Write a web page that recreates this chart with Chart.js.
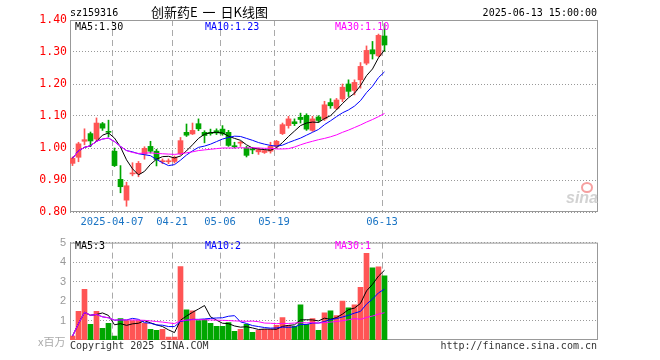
<!DOCTYPE html>
<html>
<head>
<meta charset="utf-8">
<script src="https://cdn.jsdelivr.net/npm/chart.js@4/dist/chart.umd.min.js"></script>
<style>
body { margin: 0; background: #fff; width: 660px; height: 360px; overflow: hidden; position: relative; }
canvas { position: absolute; left: 0; }
#priceChart { top: 0; }
#volChart { top: 232px; }
.t { position: absolute; white-space: nowrap; font-family: "DejaVu Sans Mono", monospace; font-size: 10px; line-height: 10px; }
.cjk { font-family: "Noto Sans CJK SC", sans-serif; }
</style>
</head>
<body>
<canvas id="priceChart" width="660" height="232"></canvas>
<canvas id="volChart" width="660" height="128"></canvas>

<div class="t" style="left:70px;top:8px;">sz159316</div>
<div class="t cjk" style="left:151px;top:5px;font-size:13px;line-height:14px;word-spacing:2px;">创新药E 一 日K线图</div>
<div class="t" style="right:63px;top:8px;">2025-06-13 15:00:00</div>
<div class="t" style="left:75px;top:22px;color:#000;">MA5:1.30</div>
<div class="t" style="left:205px;top:22px;color:#00f;">MA10:1.23</div>
<div class="t" style="left:335px;top:22px;color:#f0f;">MA30:1.10</div>
<div class="t" style="left:75px;top:241px;color:#000;">MA5:3</div>
<div class="t" style="left:205px;top:241px;color:#00f;">MA10:2</div>
<div class="t" style="left:335px;top:241px;color:#f0f;">MA30:1</div>
<div class="t cjk" style="left:38px;top:335px;font-size:11px;line-height:12px;color:#aaa;">x百万</div>
<div class="t" style="left:70px;top:341px;color:#333;">Copyright 2025 SINA.COM</div>
<div class="t" style="right:63px;top:341px;color:#333;">http://finance.sina.com.cn</div>
<div style="position:absolute;left:581px;top:182px;width:8px;height:7px;border-radius:50%;border:2px solid #f6a0a0;"></div>
<div class="t" style="left:566px;top:189px;font-family:'Liberation Sans',sans-serif;font-size:16px;line-height:17px;font-style:italic;font-weight:bold;color:#d2d2d2;">sina</div>

<script>
// trading days shown
const dates = [
  '2025-03-26', '2025-03-27', '2025-03-28', '2025-03-31', '2025-04-01', '2025-04-02', '2025-04-03',
  '2025-04-07', '2025-04-08', '2025-04-09', '2025-04-10', '2025-04-11', '2025-04-14', '2025-04-15',
  '2025-04-16', '2025-04-17', '2025-04-18', '2025-04-21', '2025-04-22', '2025-04-23', '2025-04-24',
  '2025-04-25', '2025-04-28', '2025-04-29', '2025-04-30', '2025-05-06', '2025-05-07', '2025-05-08',
  '2025-05-09', '2025-05-12', '2025-05-13', '2025-05-14', '2025-05-15', '2025-05-16', '2025-05-19',
  '2025-05-20', '2025-05-21', '2025-05-22', '2025-05-23', '2025-05-26', '2025-05-27', '2025-05-28',
  '2025-05-29', '2025-05-30', '2025-06-03', '2025-06-04', '2025-06-05', '2025-06-06', '2025-06-09',
  '2025-06-10', '2025-06-11', '2025-06-12', '2025-06-13'
];

const open = [0.952, 0.971, 1.021, 1.045, 1.028, 1.076, 1.051, 0.990, 0.902, 0.837, 0.919, 0.920, 0.981, 1.005,
  0.990, 0.957, 0.957, 0.958, 0.982, 1.049, 1.044, 1.076, 1.049, 1.047, 1.054, 1.059, 1.049, 1.006,
  1.015, 1.000, 0.996, 0.988, 0.986, 0.990, 1.005, 1.045, 1.070, 1.082, 1.096, 1.102, 1.055, 1.097,
  1.091, 1.142, 1.124, 1.153, 1.200, 1.180, 1.213, 1.265, 1.307, 1.288, 1.350];
const high = [0.972, 1.018, 1.060, 1.050, 1.094, 1.080, 1.087, 1.000, 0.945, 0.893, 0.954, 0.958, 1.004, 1.021,
  0.996, 0.966, 0.966, 0.975, 1.033, 1.075, 1.078, 1.091, 1.054, 1.059, 1.060, 1.070, 1.055, 1.018,
  1.021, 1.005, 1.002, 1.000, 0.995, 1.018, 1.024, 1.078, 1.099, 1.091, 1.109, 1.107, 1.099, 1.101,
  1.146, 1.154, 1.155, 1.200, 1.213, 1.213, 1.267, 1.319, 1.333, 1.356, 1.388];
const low = [0.945, 0.957, 1.010, 1.004, 1.020, 1.055, 1.035, 0.942, 0.860, 0.818, 0.913, 0.910, 0.965, 0.984,
  0.944, 0.951, 0.951, 0.953, 0.979, 1.036, 1.042, 1.054, 1.016, 1.040, 1.042, 1.040, 1.005, 1.000,
  1.005, 0.972, 0.982, 0.980, 0.983, 0.984, 1.000, 1.042, 1.062, 1.070, 1.078, 1.055, 1.052, 1.080,
  1.086, 1.124, 1.120, 1.145, 1.161, 1.166, 1.187, 1.260, 1.278, 1.285, 1.302];
const close = [0.968, 1.013, 1.026, 1.022, 1.078, 1.062, 1.049, 0.945, 0.879, 0.882, 0.921, 0.952, 0.999, 0.990,
  0.964, 0.959, 0.960, 0.971, 1.023, 1.040, 1.055, 1.060, 1.039, 1.045, 1.047, 1.044, 1.008, 1.004,
  1.017, 0.977, 0.994, 0.995, 0.992, 1.005, 1.021, 1.073, 1.091, 1.076, 1.089, 1.059, 1.091, 1.086,
  1.135, 1.132, 1.150, 1.190, 1.177, 1.205, 1.255, 1.305, 1.294, 1.352, 1.322];

const ma5 = [0.968, 0.991, 1.002, 1.007, 1.021, 1.040, 1.047, 1.031, 1.003, 0.963, 0.935, 0.916, 0.927, 0.949,
  0.965, 0.973, 0.974, 0.969, 0.975, 0.991, 1.010, 1.030, 1.043, 1.048, 1.049, 1.047, 1.037, 1.030,
  1.024, 1.010, 1.000, 0.997, 0.995, 0.993, 1.001, 1.017, 1.036, 1.053, 1.070, 1.078, 1.081, 1.080,
  1.092, 1.101, 1.119, 1.139, 1.157, 1.171, 1.195, 1.226, 1.247, 1.282, 1.306];
const ma10 = [0.968, 0.991, 1.002, 1.007, 1.021, 1.028, 1.031, 1.020, 1.005, 0.992, 0.988, 0.982, 0.979, 0.976,
  0.964, 0.954, 0.945, 0.948, 0.962, 0.978, 0.991, 1.002, 1.006, 1.012, 1.020, 1.028, 1.033, 1.037,
  1.036, 1.030, 1.024, 1.017, 1.012, 1.008, 1.006, 1.009, 1.017, 1.024, 1.031, 1.040, 1.049, 1.058,
  1.073, 1.085, 1.098, 1.110, 1.119, 1.131, 1.148, 1.173, 1.193, 1.220, 1.238];
const ma30 = [0.968, 0.991, 1.002, 1.007, 1.021, 1.028, 1.031, 1.020, 1.005, 0.992, 0.986, 0.983, 0.984, 0.985,
  0.983, 0.982, 0.981, 0.980, 0.982, 0.985, 0.988, 0.992, 0.994, 0.996, 0.998, 1.000, 1.000, 1.000,
  1.001, 1.000, 1.001, 1.000, 0.999, 0.999, 0.997, 0.997, 0.998, 1.003, 1.010, 1.016, 1.021, 1.026,
  1.030, 1.035, 1.041, 1.049, 1.056, 1.064, 1.072, 1.081, 1.089, 1.098, 1.108];

// volume, millions
const volume = [0.20, 1.47, 2.60, 0.80, 1.47, 0.60, 0.85, 0.20, 1.10, 1.00, 1.00, 1.00, 0.85, 0.55,
  0.50, 0.55, 0.15, 0.15, 3.77, 1.55, 1.50, 1.00, 1.05, 0.85, 0.70, 0.70, 0.90, 0.45,
  0.55, 0.80, 0.40, 0.50, 0.55, 0.55, 0.75, 1.15, 0.75, 0.70, 1.80, 0.80, 1.10, 0.50,
  1.40, 1.50, 1.25, 2.00, 1.65, 1.80, 2.70, 4.45, 3.70, 3.75, 3.30];
const volMa5 = [0.20, 0.84, 1.42, 1.27, 1.31, 1.39, 1.26, 0.78, 0.84, 0.75, 0.83, 0.86, 0.99, 0.88,
  0.78, 0.69, 0.52, 0.38, 1.02, 1.23, 1.42, 1.59, 1.77, 1.19, 1.02, 0.86, 0.84, 0.72,
  0.66, 0.68, 0.62, 0.54, 0.56, 0.56, 0.55, 0.70, 0.75, 0.78, 1.03, 1.04, 1.03, 0.98,
  1.12, 1.06, 1.15, 1.33, 1.56, 1.64, 1.88, 2.52, 2.86, 3.28, 3.58];
const volMa10 = [0.20, 0.84, 1.42, 1.27, 1.31, 1.19, 1.14, 1.02, 1.03, 1.03, 1.11, 1.06, 0.89, 0.86,
  0.77, 0.76, 0.69, 0.69, 0.95, 1.01, 1.06, 1.06, 1.08, 1.11, 1.13, 1.14, 1.22, 1.25,
  0.93, 0.85, 0.74, 0.69, 0.64, 0.61, 0.62, 0.66, 0.65, 0.67, 0.80, 0.80, 0.87, 0.87,
  0.95, 1.05, 1.10, 1.18, 1.27, 1.38, 1.47, 1.84, 2.10, 2.42, 2.61];
const volMa30 = [0.20, 0.84, 1.42, 1.27, 1.31, 1.19, 1.14, 1.02, 1.03, 1.03, 1.03, 1.02, 1.01, 0.98,
  0.95, 0.92, 0.88, 0.84, 0.99, 1.02, 1.04, 1.04, 1.04, 1.03, 1.02, 1.01, 1.00, 0.98,
  0.97, 0.96, 0.97, 0.94, 0.87, 0.86, 0.84, 0.85, 0.85, 0.87, 0.89, 0.88, 0.89, 0.87,
  0.89, 0.92, 0.95, 0.99, 1.04, 1.10, 1.06, 1.16, 1.23, 1.33, 1.40];

const priceTicks = [0.80, 0.90, 1.00, 1.10, 1.20, 1.30, 1.40];
const volTicks = [1, 2, 3, 4, 5];
const tickDates = ['2025-04-07', '2025-04-21', '2025-05-06', '2025-05-19', '2025-06-13'];
const tickLabels = ['2025-04-07', '04-21', '05-06', '05-19', '06-13'];

const RED = '#ff5555';
const GREEN = '#00a600';
const MONO = 'DejaVu Sans Mono';

// 6px per trading day, bar center 2.5px right of slot edge
const xMin = -2.5 / 6;
const xMax = xMin + 88;

const upColor = close.map((c, i) => (c >= open[i] ? RED : GREEN));
const pts = arr => arr.map((v, i) => ({ x: i, y: v }));

const framePlugin = {
  id: 'frame',
  beforeDatasetsDraw(chart) {
    const a = chart.chartArea;
    const ctx = chart.ctx;
    ctx.save();
    ctx.strokeStyle = '#999';
    ctx.lineWidth = 1;
    ctx.strokeRect(a.left + 0.5, a.top + 0.5, a.right - a.left - 1, a.bottom - a.top - 1);
    ctx.restore();
  }
};

function xScale(showLabels) {
  return {
    type: 'linear',
    min: xMin,
    max: xMax,
    offset: false,
    afterBuildTicks: s => { s.ticks = tickDates.map(d => ({ value: dates.indexOf(d) + xMin })); },
    afterFit: s => { s.height = 20; },
    ticks: {
      display: showLabels,
      autoSkip: false,
      maxRotation: 0,
      padding: 4,
      color: '#1a74c4',
      font: { family: MONO, size: 10.5 },
      callback: (v, i) => tickLabels[i]
    },
    grid: { color: '#aaa', drawTicks: false, offset: false },
    border: { display: false, dash: [6, 4] }
  };
}

function lineSet(arr, color) {
  return { type: 'line', data: pts(arr), borderColor: color, borderWidth: 1, pointRadius: 0, tension: 0 };
}

const baseOpts = {
  responsive: false,
  animation: false,
  events: [],
  plugins: { legend: { display: false }, tooltip: { enabled: false } }
};

new Chart(document.getElementById('priceChart'), {
  type: 'bar',
  data: {
    datasets: [
      lineSet(ma30, '#ff00ff'),
      lineSet(ma10, '#0000ff'),
      lineSet(ma5, '#000000'),
      {
        data: dates.map((d, i) => ({ x: i, y: [Math.min(open[i], close[i]), Math.max(open[i], close[i])] })),
        backgroundColor: upColor, barThickness: 5, minBarLength: 1, grouped: false, borderWidth: 0
      },
      {
        data: dates.map((d, i) => ({ x: i, y: [low[i], high[i]] })),
        backgroundColor: upColor, barThickness: 1, grouped: false, borderWidth: 0
      }
    ]
  },
  options: {
    ...baseOpts,
    layout: { padding: { top: 20, right: 62, left: 0, bottom: 0 } },
    scales: {
      x: xScale(true),
      y: {
        type: 'linear',
        min: 0.8,
        max: 1.4,
        afterBuildTicks: s => { s.ticks = priceTicks.map(v => ({ value: v })); },
        afterFit: s => { s.width = 70; },
        ticks: { color: '#ff0000', padding: 3, font: { family: MONO, size: 11.5 }, callback: v => v.toFixed(2) },
        grid: { color: '#999', drawTicks: false },
        border: { display: false, dash: [1, 2] }
      }
    }
  },
  plugins: [framePlugin]
});

new Chart(document.getElementById('volChart'), {
  type: 'bar',
  data: {
    datasets: [
      lineSet(volMa30, '#ff00ff'),
      lineSet(volMa10, '#0000ff'),
      lineSet(volMa5, '#000000'),
      {
        data: pts(volume),
        backgroundColor: upColor, barThickness: 5, grouped: false, borderWidth: 0
      }
    ]
  },
  options: {
    ...baseOpts,
    layout: { padding: { top: 8, right: 62, left: 0, bottom: 0 } },
    scales: {
      x: xScale(false),
      y: {
        type: 'linear',
        min: 0,
        max: 5,
        afterBuildTicks: s => { s.ticks = volTicks.map(v => ({ value: v })); },
        afterFit: s => { s.width = 70; },
        ticks: { color: '#999', padding: 4, font: { family: 'Liberation Sans', size: 11 }, callback: v => String(v) },
        grid: { color: '#999', drawTicks: false },
        border: { display: false, dash: [1, 2] }
      }
    }
  },
  plugins: [framePlugin]
});
</script>
</body>
</html>
